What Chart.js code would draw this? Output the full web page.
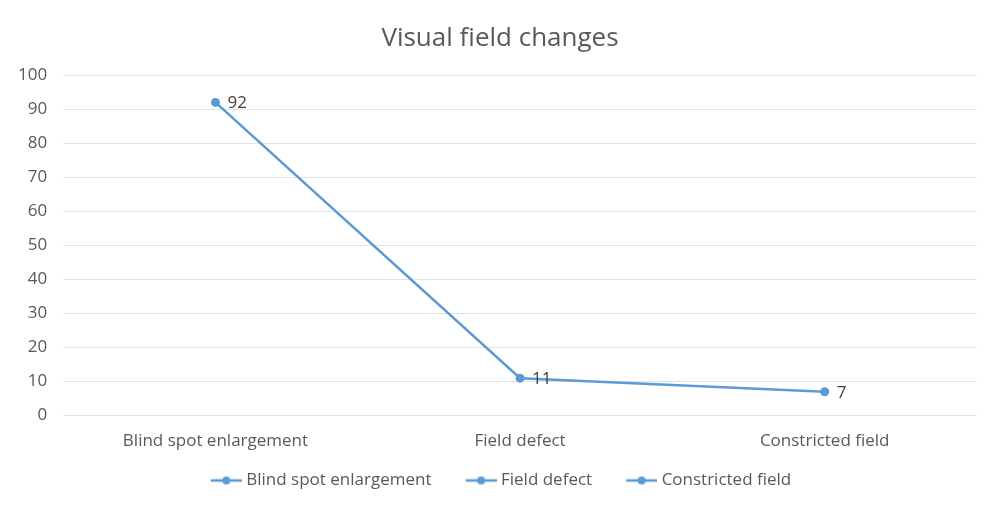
<!DOCTYPE html>
<html>
<head>
<meta charset="utf-8">
<script src="https://cdn.jsdelivr.net/npm/chart.js@4/dist/chart.umd.min.js"></script>
<style>
  html, body { margin: 0; padding: 0; background: #fff; }
  #wrap { width: 1000px; height: 509px; }
</style>
</head>
<body>
<div id="wrap"><canvas id="lineChart"></canvas></div>
<script>
const categories = ['Blind spot enlargement', 'Field defect', 'Constricted field'];
const values = [92, 11, 7];
const yTicks = [0, 10, 20, 30, 40, 50, 60, 70, 80, 90, 100];

const blue = '#5b9bd5';
const grey = '#595959';
const font = "'Open Sans', 'Noto Sans', sans-serif";

// legend marker: short line with a dot, drawn on the right part of a wider canvas
// so the gap between legend items is larger than the gap marker -> text
function lineDot() {
    const c = document.createElement('canvas');
    c.width = 55; c.height = 10;
    const g = c.getContext('2d');
    g.strokeStyle = blue; g.lineWidth = 2.5;
    g.beginPath(); g.moveTo(24, 5); g.lineTo(55, 5); g.stroke();
    g.fillStyle = blue;
    g.beginPath(); g.arc(39.5, 5, 4, 0, Math.PI * 2); g.fill();
    return c;
}
const marker = lineDot();

// the blank part of the marker sits left of the first item, pull the legend back
const legendNudge = {
    id: 'legendNudge',
    afterLayout(chart) {
        chart.legend.left -= 9;
        chart.legend.right -= 9;
    }
};

const valueLabels = {
    id: 'valueLabels',
    afterDatasetsDraw(chart) {
        const ctx = chart.ctx;
        const meta = chart.getDatasetMeta(0);
        ctx.save();
        ctx.fillStyle = '#404040';
        ctx.font = '17px ' + font;
        ctx.textBaseline = 'middle';
        meta.data.forEach((pt, i) => {
            ctx.fillText(String(values[i]), pt.x + 12, pt.y + 1);
        });
        ctx.restore();
    }
};

const ctx = document.getElementById('lineChart').getContext('2d');
new Chart(ctx, {
    type: 'line',
    data: {
        labels: categories,
        datasets: [{
            label: 'Visual field changes',
            data: values,
            borderColor: blue,
            backgroundColor: blue,
            borderWidth: 2.5,
            pointRadius: 4.5,
            pointBackgroundColor: blue,
            pointBorderWidth: 0,
            tension: 0
        }]
    },
    options: {
        responsive: true,
        maintainAspectRatio: false,
        animation: false,
        layout: { padding: { left: 2, right: 2, top: 9, bottom: 10 } },
        scales: {
            x: {
                offset: true,
                grid: { display: false },
                border: { display: false },
                ticks: { color: grey, font: { family: font, size: 17 }, padding: 7 }
            },
            y: {
                min: 0,
                max: 100,
                afterBuildTicks: axis => { axis.ticks = yTicks.map(v => ({ value: v })); },
                grid: { color: '#e3e3e3', lineWidth: 1, drawTicks: false },
                border: { display: false },
                ticks: { color: grey, font: { family: font, size: 17 }, padding: 16 }
            },
            // empty right margin so the title stays centred on the page
            yRight: {
                type: 'linear',
                position: 'right',
                display: true,
                grid: { display: false },
                border: { display: false },
                ticks: { display: false },
                afterFit: axis => { axis.width = 21; }
            }
        },
        plugins: {
            title: {
                display: true,
                text: 'Visual field changes',
                color: grey,
                font: { family: font, size: 26, weight: 'normal' },
                padding: { top: 14, bottom: 21 }
            },
            legend: {
                display: true,
                position: 'bottom',
                labels: {
                    usePointStyle: true,
                    pointStyleWidth: 47,
                    color: grey,
                    font: { family: font, size: 17 },
                    padding: 14,
                    generateLabels: () => categories.map(c => ({
                        text: c,
                        pointStyle: marker,
                        fillStyle: blue,
                        strokeStyle: blue,
                        fontColor: grey,
                        lineWidth: 0
                    }))
                }
            },
            tooltip: { enabled: false }
        }
    },
    plugins: [valueLabels, legendNudge]
});
</script>
</body>
</html>
